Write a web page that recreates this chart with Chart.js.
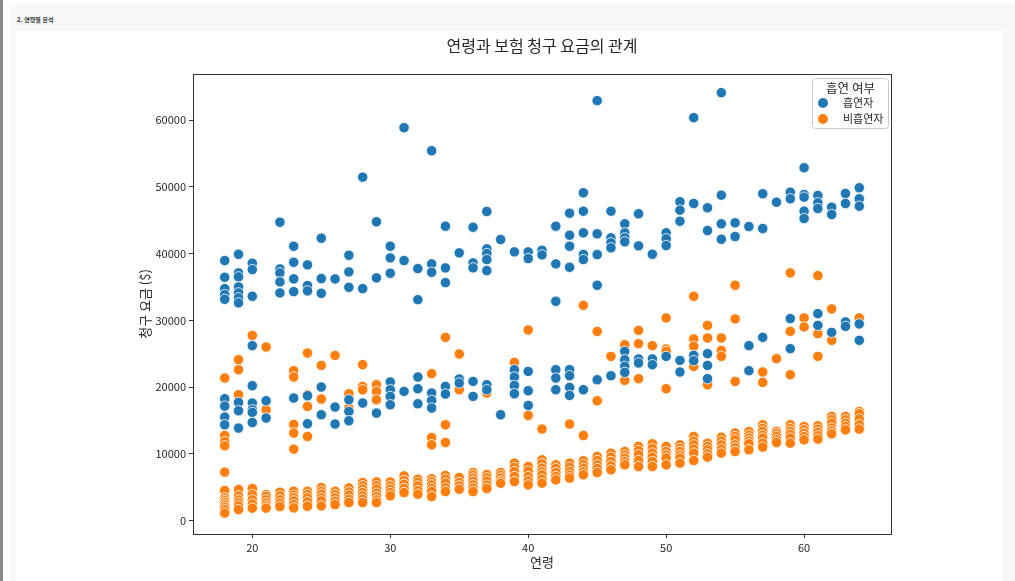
<!DOCTYPE html>
<html lang="ko">
<head>
<meta charset="utf-8">
<title>연령과 보험 청구 요금의 관계</title>
<script src="https://cdn.jsdelivr.net/npm/chart.js@4.4.1/dist/chart.umd.min.js"></script>
<style>
  html, body { margin: 0; padding: 0; background: #ffffff; width: 1015px; height: 581px; overflow: hidden; }
  #leftLine { position: absolute; left: 0; top: 0; width: 3px; height: 581px; background: #8a8a8a; }
  #panel { position: absolute; left: 10px; top: 5px; width: 1005px; height: 576px; background: #f6f7f9; }
  #panel span { position: absolute; left: 7px; top: 12px; font: 600 6px "Noto Sans CJK KR", "Noto Sans", sans-serif; color: #333; line-height: 6px; }
  #inner { position: absolute; left: 16px; top: 31px; width: 987px; height: 550px; background: #ffffff; }
  #wrap { position: absolute; left: 0; top: 0; width: 1015px; height: 581px; }
</style>
</head>
<body>
<div id="leftLine"></div>
<div id="panel"><span>2. 연령별 분석</span></div>
<div id="inner"></div>
<div id="wrap"><canvas id="c" width="1015" height="581"></canvas></div>
<script>
// ---- data ----
const ages = [18,19,20,21,22,23,24,25,26,27,28,29,30,31,32,33,34,35,36,37,38,39,40,41,42,43,44,45,46,47,48,49,50,51,52,53,54,55,56,57,58,59,60,61,62,63,64];

const smokerCharges = [
  [38955,36450,34755,33855,33150,18255,17145,15510,14355],
  [39900,37110,36510,35010,34110,33360,32610,17700,16455,13860],
  [38550,37600,33600,26205,20205,17610,16605,16200,14700],
  [17955,15360],
  [44700,37710,37110,35760,34110],
  [41100,38700,36210,34305,18360],
  [38310,35205,34410,18705,14505],
  [42300,36255,34050,20010,15855],
  [36200,17010,14460],
  [39750,37260,34950,18105,16350,14955],
  [51450,34755,17610],
  [44760,36360,16110],
  [41100,39360,37050,20760,19605,18600,17355],
  [58860,38955,19350],
  [37755,33100,21510,19755,17505],
  [55410,38460,37200,19110,18000,16860],
  [44100,37860,35655,20100,18960],
  [40110,21210,20610],
  [43950,38610,37860,20850,18600],
  [46305,40710,40005,39105,37455,20355,19605],
  [42105,15855],
  [40260,22605,21510,20250,19005],
  [40260,39255,22350,19455,17250],
  [40500,39800],
  [44100,38460,32850,22605,21360,19605],
  [46050,42750,41100,37950,22605,21705,19950,18750],
  [49110,46350,43110,39855,39105,19605],
  [62910,42960,39855,35250,21105],
  [46350,42360,41610,40860,21705],
  [44460,43110,42360,41760,25350,24105,23100,22200],
  [45960,41160,24210,23610],
  [39900,24210,23355],
  [43110,42210,41205,24600],
  [47760,46500,44850,24000,22260],
  [60360,47505,24750,23955],
  [46860,43455,25005,23250,21255],
  [64110,48750,44460,42150],
  [44610,42555],
  [44055,26205,22455],
  [48960,43755,27450],
  [47700],
  [49200,48210,30255,25755],
  [52860,48855,48450,46350,45255],
  [48705,47610,46755,31005,29250],
  [46950,45855,28200],
  [49005,47505,29760,29100],
  [49860,48210,47100,29460,27000]
];

const nonSmokerCharges = [
  [21360,12750,11850,11205,7260,4500,3400,3000,2700,2355,2000,1605,1121],
  [24105,22605,18855,4650,3700,3100,2650,2200,1650],
  [27750,4800,3900,3105,2500,1860],
  [26010,16605,3900,3600,3100,2610,2200,1860],
  [4260,3700,3105,2600,2100],
  [22455,21510,14400,13110,10710,4400,3800,3400,2950,2400,1900],
  [25110,18900,17100,12600,4400,3900,3400,2800,2150],
  [23250,18210,4950,4400,3950,3400,2950,2200],
  [24750,4400,3900,3400,2900,2400],
  [19005,16860,4900,4300,3800,3200,2700],
  [23355,20100,19600,5700,5200,4700,4200,3700,3200,2700],
  [20355,19350,18105,5800,5200,4700,4100,3600,3100,2700],
  [5800,5200,4700,4200,3700],
  [6700,6000,5450,4800,4200],
  [6200,5700,5200,4500,3950],
  [22005,12450,11355,6255,5800,5355,4850,4350,3600],
  [27450,14355,11700,6750,6200,5610,4900,4350],
  [24960,19605,6450,5700,5200,4700],
  [7200,6800,6360,5900,5355,4850,4350],
  [19100,6900,6400,5900,5300,4800],
  [7200,6800,6360,5900,5600],
  [23700,8610,7950,7350,6600,5850],
  [28560,15750,8100,7400,6600,5950,5355],
  [13710,9105,8500,7860,7300,6855,6200,5610],
  [8355,7800,7200,6600,6105],
  [14460,8610,8000,7350,6800,6360],
  [32250,12750,8955,8400,7860,7300,6855],
  [28350,17955,9600,9000,8355,7800,7200],
  [24600,10110,9500,8860,8200,7600],
  [26355,21000,10350,9800,9350,8800,8350],
  [28500,26505,21255,11100,10500,9855,9000,8100],
  [26205,11505,10800,10110,9500,8850,8100],
  [30360,25710,25350,19755,11100,10350,9800,9360,8355],
  [11355,10800,10350,9800,9360,8600],
  [33600,27210,26100,23100,12600,11900,11355,10700,10110,9000],
  [29250,27360,20355,11600,11100,10600,10000,9500],
  [27360,25500,24600,12500,11900,11355,10700,10110],
  [35250,30210,20850,13110,12600,12105,11355,10900,10350],
  [13350,12800,12360,11900,11505,10605],
  [22260,20700,14355,13800,13350,12800,12360,11600,11010],
  [24255,13350,13000,12600,12100,11700],
  [37110,28350,21855,14355,13800,13350,12900,12360,11600],
  [30360,29010,14100,13600,13110,12600,12105],
  [36705,28005,24600,14200,13700,13200,12700,12200],
  [31710,27000,15600,15100,14610,13860,13400,13005],
  [15600,15100,14600,14100,13600],
  [30360,16350,16005,15200,14355,13710]
];

const seriesLabels = ["흡연자", "비흡연자"];
const seriesColors = ["#1f77b4", "#ff7f0e"];
const xTicks = [20, 30, 40, 50, 60];
const yTicks = [0, 10000, 20000, 30000, 40000, 50000, 60000];
const chartTitle = "연령과 보험 청구 요금의 관계";
const legendTitle = "흡연 여부";
// -----------------------------------------------

const FONT = '"Noto Sans CJK KR", "Noto Sans", sans-serif';
const toPoints = (groups) => ages.flatMap((a, i) => groups[i].map(v => ({ x: a, y: v })));

const framePlugin = {
  id: 'frame',
  afterDatasetsDraw(chart) {
    const { ctx, chartArea: a } = chart;
    ctx.save();
    ctx.strokeStyle = '#333';
    ctx.lineWidth = 1;
    ctx.strokeRect(Math.round(a.left) + 0.5, Math.round(a.top) + 0.5, Math.round(a.right - a.left), Math.round(a.bottom - a.top));
    ctx.restore();
  }
};

const axesTitlePlugin = {
  id: 'axesTitle',
  afterDraw(chart) {
    const { ctx, chartArea: a } = chart;
    ctx.save();
    ctx.fillStyle = '#262626';
    ctx.font = '16px ' + FONT;
    ctx.textAlign = 'center';
    ctx.textBaseline = 'middle';
    ctx.fillText(chartTitle, (a.left + a.right) / 2, a.top - 28);
    ctx.restore();
  }
};

const legendPlugin = {
  id: 'boxLegend',
  afterDraw(chart) {
    const { ctx, chartArea: a } = chart;
    const w = 76, h = 50;
    const x0 = a.right - w - 3, y0 = a.top + 4;
    ctx.save();
    ctx.fillStyle = 'rgba(255,255,255,0.85)';
    ctx.strokeStyle = '#cccccc';
    ctx.lineWidth = 1;
    ctx.beginPath();
    ctx.roundRect(x0 + 0.5, y0 + 0.5, w, h, 3);
    ctx.fill();
    ctx.stroke();
    ctx.fillStyle = '#262626';
    ctx.textBaseline = 'middle';
    ctx.textAlign = 'center';
    ctx.font = '12.5px ' + FONT;
    ctx.fillText(legendTitle, x0 + w / 2 + 0.5, y0 + 10);
    ctx.textAlign = 'left';
    ctx.font = '11px ' + FONT;
    chart.data.datasets.forEach((ds, i) => {
      const cy = y0 + 25 + i * 16;
      ctx.beginPath();
      ctx.arc(x0 + 11, cy, 5, 0, Math.PI * 2);
      ctx.fillStyle = ds.backgroundColor;
      ctx.fill();
      ctx.fillStyle = '#262626';
      ctx.fillText(ds.label, x0 + 31, cy);
    });
    ctx.restore();
  }
};

const tickSetter = (vals) => (scale) => { scale.ticks = vals.map(v => ({ value: v })); };

new Chart(document.getElementById('c'), {
  type: 'scatter',
  data: {
    datasets: [
      { label: seriesLabels[0], data: toPoints(smokerCharges), backgroundColor: seriesColors[0], borderColor: '#ffffff', borderWidth: 0.8, pointRadius: 5.2, order: 1 },
      { label: seriesLabels[1], data: toPoints(nonSmokerCharges), backgroundColor: seriesColors[1], borderColor: '#ffffff', borderWidth: 0.8, pointRadius: 5.2, order: 2 }
    ]
  },
  options: {
    responsive: false,
    animation: false,
    events: [],
    layout: { padding: { left: 133, right: 124, top: 74, bottom: 7 } },
    plugins: {
      legend: { display: false },
      tooltip: { enabled: false },
      title: { display: false }
    },
    scales: {
      x: {
        type: 'linear',
        min: 15.7, max: 66.3,
        afterBuildTicks: tickSetter(xTicks),
        afterFit: (s) => { s.height = 40; },
        border: { display: false },
        grid: { display: true, drawOnChartArea: false, drawTicks: true, tickLength: 4, color: '#333', tickColor: '#333' },
        ticks: { color: '#262626', font: { family: FONT, size: 11 }, padding: 3, maxRotation: 0 },
        title: { display: true, text: '연령', color: '#262626', font: { family: FONT, size: 13 }, padding: { top: 2, bottom: 4 } }
      },
      y: {
        type: 'linear',
        min: -2011, max: 66902,
        afterBuildTicks: tickSetter(yTicks),
        afterFit: (s) => { s.width = 60; },
        border: { display: false },
        grid: { display: true, drawOnChartArea: false, drawTicks: true, tickLength: 4, color: '#333', tickColor: '#333' },
        ticks: { color: '#262626', font: { family: FONT, size: 11 }, padding: 3, callback: (v) => String(v) },
        title: { display: true, text: '청구 요금 ($)', color: '#262626', font: { family: FONT, size: 13 }, padding: { top: 4, bottom: 4 } }
      }
    }
  },
  plugins: [framePlugin, axesTitlePlugin, legendPlugin]
});
</script>
</body>
</html>
